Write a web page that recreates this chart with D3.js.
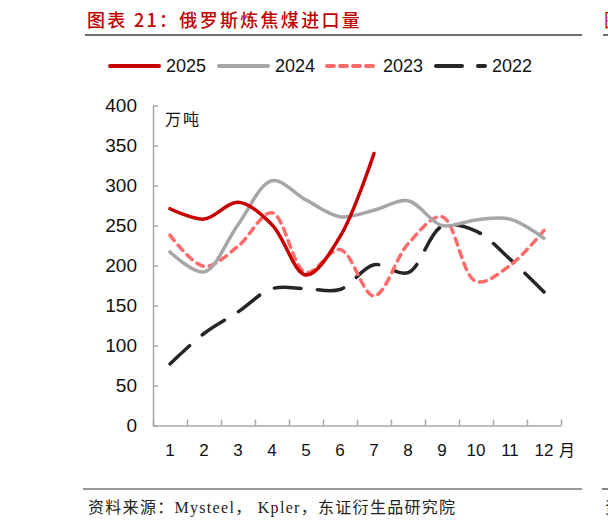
<!DOCTYPE html>
<html>
<head>
<meta charset="utf-8">
<script src="https://cdn.jsdelivr.net/npm/d3@7"></script>
<style>
  html, body { margin: 0; padding: 0; background: #fff; }
  #chart { width: 608px; height: 526px; }
</style>
</head>
<body>
<div id="chart"></div>
<script>
const MONTHS = [1, 2, 3, 4, 5, 6, 7, 8, 9, 10, 11, 12];
const Y_TICKS = [0, 50, 100, 150, 200, 250, 300, 350, 400];
const S2025 = [271, 258, 279, 251, 188, 236, 340];
const S2024 = [217, 192, 251, 306, 282, 261, 269, 281, 250, 257, 258, 234];
const S2023 = [238, 199, 224, 266, 191, 220, 162, 227, 261, 180, 200, 244];
const S2022 = [77, 115, 142, 171, 171, 170, 201, 191, 249, 243, 208, 167];
const SERIES_NAMES = ["2025", "2024", "2023", "2022"];

const TITLE = "图表 21：俄罗斯炼焦煤进口量";
const UNIT = "万吨";
const SOURCE = "资料来源：Mysteel， Kpler，东证衍生品研究院";

(function () {
  const width = 608;
  const height = 526;
  const latin = "'Liberation Sans', Arial, sans-serif";
  const cjk = "'Noto Sans CJK SC', sans-serif";
  const serif = "'Liberation Serif', 'Noto Sans CJK SC', serif";

  const series = [
    { name: SERIES_NAMES[0], values: S2025, color: "#C80000", dash: null },
    { name: SERIES_NAMES[1], values: S2024, color: "#A6A6A6", dash: null },
    { name: SERIES_NAMES[2], values: S2023, color: "#FF6B6B", dash: [7, 6] },
    { name: SERIES_NAMES[3], values: S2022, color: "#262626", dash: [26, 16] },
  ];

  const svg = d3.select("#chart").append("svg").attr("width", width).attr("height", height);

  // header
  svg
    .append("text")
    .attr("x", 87)
    .attr("y", 27)
    .attr("fill", "#C00000")
    .attr("font-family", cjk)
    .attr("font-size", 18)
    .attr("font-weight", 500)
    .attr("letter-spacing", 2.3)
    .text(TITLE);
  svg.append("line").attr("x1", 85).attr("x2", 582).attr("y1", 35).attr("y2", 35).attr("stroke", "#404040").attr("stroke-width", 1.5);
  svg.append("line").attr("x1", 603).attr("x2", 608).attr("y1", 35).attr("y2", 35).attr("stroke", "#404040").attr("stroke-width", 1.5);
  svg.append("text").attr("x", 604).attr("y", 27).attr("fill", "#C00000").attr("font-family", cjk).attr("font-size", 18).text("图");

  // scales
  const x = d3.scaleLinear().domain([0.5, 12.5]).range([153, 561]);
  const y = d3.scaleLinear().domain([0, 400]).range([425.5, 105.5]);

  // y axis
  svg
    .append("g")
    .attr("transform", "translate(153,0)")
    .call(d3.axisRight(y).tickValues(Y_TICKS).tickSize(5).tickSizeOuter(0).tickFormat(""))
    .call((g) => g.selectAll("path,line").attr("stroke", "#A6A6A6").attr("stroke-width", 1.5));

  svg
    .append("g")
    .selectAll("text")
    .data(Y_TICKS)
    .join("text")
    .attr("x", 137)
    .attr("y", (d) => y(d))
    .attr("dy", "0.36em")
    .attr("text-anchor", "end")
    .attr("fill", "#111")
    .attr("font-family", latin)
    .attr("font-size", 19)
    .text((d) => d);

  // x axis, ticks between categories
  svg
    .append("g")
    .attr("transform", "translate(0,425.5)")
    .call(d3.axisBottom(x).tickValues(d3.range(0.5, 13, 1)).tickSize(-6).tickSizeOuter(0).tickFormat(""))
    .call((g) => g.selectAll("path,line").attr("stroke", "#A6A6A6").attr("stroke-width", 1.5));

  svg
    .append("g")
    .selectAll("text")
    .data(MONTHS)
    .join("text")
    .attr("x", (d) => x(d))
    .attr("y", 450)
    .attr("dy", "0.36em")
    .attr("text-anchor", "middle")
    .attr("fill", "#111")
    .attr("font-family", latin)
    .attr("font-size", 17)
    .text((d) => d);

  svg.append("text").attr("x", x(12) + 15).attr("y", 450).attr("dy", "0.36em").attr("fill", "#111").attr("font-family", cjk).attr("font-size", 16).text("月");

  svg.append("text").attr("x", 165).attr("y", 119).attr("dy", "0.36em").attr("fill", "#111").attr("font-family", cjk).attr("font-size", 16).attr("letter-spacing", 2).text(UNIT);

  // lines
  const line = d3
    .line()
    .curve(d3.curveCatmullRom.alpha(0.5))
    .x((d, i) => x(MONTHS[i]))
    .y((d) => y(d));

  svg
    .append("g")
    .selectAll("path")
    .data(series.slice().reverse())
    .join("path")
    .attr("fill", "none")
    .attr("stroke", (d) => d.color)
    .attr("stroke-width", 3.5)
    .attr("stroke-linecap", "round")
    .attr("d", (d) => line(d.values))
    .each(function (d) {
      if (!d.dash) {
        return;
      }
      // stretch the dash pattern so the path begins and ends on a dash
      const total = this.getTotalLength();
      const [dash, gap] = d.dash;
      const n = Math.max(1, Math.round((total + gap) / (dash + gap)));
      const k = (total + gap) / (n * (dash + gap));
      d3.select(this).attr("stroke-dasharray", `${dash * k},${gap * k}`);
    });

  // legend
  const legendItems = [
    { x0: 108, x1: 161, tx: 166 },
    { x0: 217, x1: 270, tx: 275 },
    { x0: 325, x1: 378, tx: 383 },
    { x0: 434, x1: 487, tx: 492 },
  ];
  const legend = svg.append("g");
  legendItems.forEach((pos, i) => {
    const s = series[i];
    legend
      .append("line")
      .attr("x1", pos.x0 + 2)
      .attr("x2", pos.x1 - 2)
      .attr("y1", 66)
      .attr("y2", 66)
      .attr("stroke", s.color)
      .attr("stroke-width", 4)
      .attr("stroke-linecap", "round")
      .attr("stroke-dasharray", s.dash ? s.dash.join(",") : null);
    legend
      .append("text")
      .attr("x", pos.tx)
      .attr("y", 66)
      .attr("dy", "0.36em")
      .attr("fill", "#111")
      .attr("font-family", latin)
      .attr("font-size", 18)
      .text(s.name);
  });

  // footer
  svg.append("line").attr("x1", 83).attr("x2", 582).attr("y1", 489).attr("y2", 489).attr("stroke", "#333").attr("stroke-width", 1.2);
  svg.append("line").attr("x1", 602).attr("x2", 608).attr("y1", 489).attr("y2", 489).attr("stroke", "#333").attr("stroke-width", 1.2);
  svg
    .append("text")
    .attr("x", 88)
    .attr("y", 513)
    .attr("fill", "#222")
    .attr("font-family", serif)
    .attr("font-size", 16)
    .attr("letter-spacing", 1.3)
    .text(SOURCE);
  svg.append("text").attr("x", 605).attr("y", 513).attr("fill", "#222").attr("font-family", serif).attr("font-size", 16).text("资");
})();
</script>
</body>
</html>
